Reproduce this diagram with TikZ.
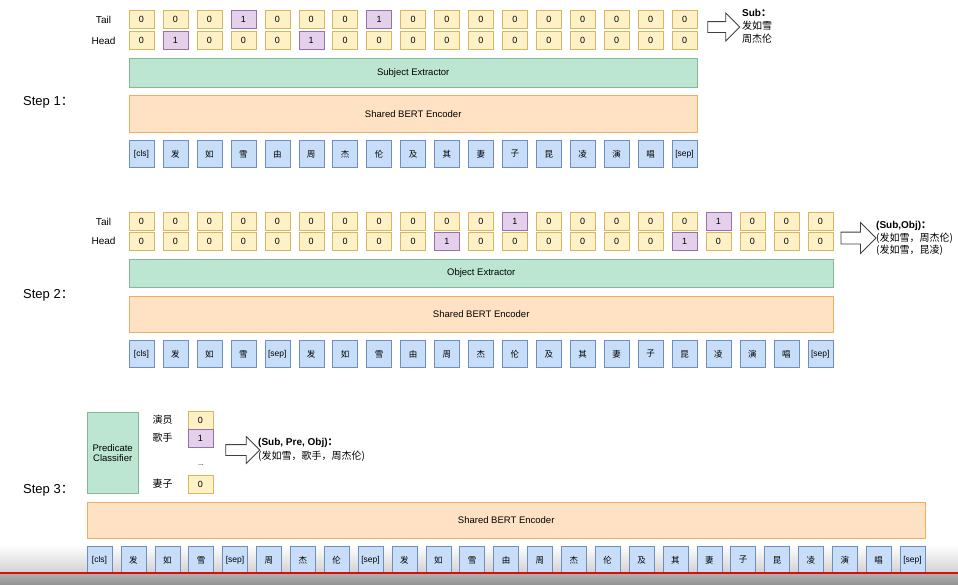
\documentclass[tikz,border=0pt]{standalone}
\usepackage{fontspec}
\setmainfont{Liberation Sans}
\newfontfamily\cjk{Noto Sans CJK SC}
\usetikzlibrary{shapes.arrows}
\definecolor{yf}{RGB}{255,241,198}
\definecolor{yd}{RGB}{214,182,96}
\definecolor{pf}{RGB}{228,208,234}
\definecolor{pd}{RGB}{150,115,166}
\definecolor{gf}{RGB}{188,230,210}
\definecolor{gd}{RGB}{130,185,155}
\definecolor{of}{RGB}{255,226,196}
\definecolor{od}{RGB}{240,172,96}
\definecolor{bf}{RGB}{200,222,248}
\definecolor{bd}{RGB}{110,142,190}
\definecolor{vred}{RGB}{225,10,10}
\newcommand{\tokcls}{\normalfont[cls]}
\newcommand{\toksep}{\normalfont[sep]}
\begin{document}
\begin{tikzpicture}[x=1pt,y=-1pt,
  cell/.style={draw=yd, fill=yf, minimum width=25pt, minimum height=18pt, inner sep=0pt, font=\fontsize{9}{10}\selectfont},
  v0/.style={},
  v1/.style={draw=pd, fill=pf},
  tok/.style={draw=bd, fill=bf, minimum width=25pt, minimum height=27pt, inner sep=0pt, font=\cjk\fontsize{8.5}{9}\selectfont},
  gbar/.style={draw=gd, fill=gf, anchor=north west, inner sep=0pt, font=\fontsize{9.5}{11}\selectfont},
  obar/.style={draw=od, fill=of, anchor=north west, inner sep=0pt, font=\fontsize{9.5}{11}\selectfont},
  rowlab/.style={font=\fontsize{10}{11}\selectfont, inner sep=0pt},
  steplab/.style={font=\fontsize{13}{15}\selectfont, anchor=west, inner sep=0pt},
  harrow/.style={single arrow, draw=black!75, fill=white, line width=0.8pt, inner sep=0pt, single arrow head extend=8.5pt},
  outtxt/.style={anchor=west, align=left, inner sep=0pt}
]
\useasboundingbox (0,0) rectangle (958,584);
\fill[white] (0,0) rectangle (958,584);
% video bar at the bottom
\shade[top color=white, bottom color=black!18] (0,545) rectangle (958,573);
\shade[top color=black!30, bottom color=black!42] (0,573) rectangle (958,584);

% ---------- Step 1 ----------
\node[steplab] (st1) at (23,102) {Step 1{\cjk ：}};
\node[rowlab] (l1t) at (103.5,19.5) {Tail};
\node[rowlab] (l1h) at (103.5,40.5) {Head};
\foreach \v [count=\i from 0] in {0,0,0,1,0,0,0,1,0,0,0,0,0,0,0,0,0}
  \node[cell,v\v] (s1t\i) at (141.5+33.94*\i,19.5) {\v};
\foreach \v [count=\i from 0] in {0,1,0,0,0,1,0,0,0,0,0,0,0,0,0,0,0}
  \node[cell,v\v] (s1h\i) at (141.5+33.94*\i,40.5) {\v};
\node[gbar, minimum width=568pt, minimum height=29pt] (se) at (129,58) {Subject Extractor};
\node[obar, minimum width=568pt, minimum height=37pt] (bert1) at (129,95) {Shared BERT Encoder};
\foreach \t [count=\i from 0] in {\tokcls,发,如,雪,由,周,杰,伦,及,其,妻,子,昆,凌,演,唱,\toksep}
  \node[tok] (s1k\i) at (141.5+33.94*\i,154) {\t};
\node[harrow, minimum height=32pt, single arrow head extend=8.5pt] (ar1) at (721,27) {\rule{0pt}{10pt}};
\node[outtxt, font=\fontsize{10}{13}\selectfont] (out1) at (742,26.5) {\textbf{Sub}{\cjk\bfseries ：}\\{\cjk 发如雪}\\{\cjk 周杰伦}};

% ---------- Step 2 ----------
\node[steplab] (st2) at (23,295) {Step 2{\cjk ：}};
\node[rowlab] (l2t) at (103.5,221.5) {Tail};
\node[rowlab] (l2h) at (103.5,241) {Head};
\foreach \v [count=\i from 0] in {0,0,0,0,0,0,0,0,0,0,0,1,0,0,0,0,0,1,0,0,0}
  \node[cell,v\v] (s2t\i) at (141.5+33.94*\i,221.5) {\v};
\foreach \v [count=\i from 0] in {0,0,0,0,0,0,0,0,0,1,0,0,0,0,0,0,1,0,0,0,0}
  \node[cell,v\v] (s2h\i) at (141.5+33.94*\i,241) {\v};
\node[gbar, minimum width=704pt, minimum height=28pt] (oe) at (129,259) {Object Extractor};
\node[obar, minimum width=704pt, minimum height=36pt] (bert2) at (129,296) {Shared BERT Encoder};
\foreach \t [count=\i from 0] in {\tokcls,发,如,雪,\toksep,发,如,雪,由,周,杰,伦,及,其,妻,子,昆,凌,演,唱,\toksep}
  \node[tok] (s2k\i) at (141.5+33.94*\i,354) {\t};
\node[harrow, minimum height=35pt, single arrow head extend=9.5pt] (ar2) at (855.5,238) {\rule{0pt}{11pt}};
\node[outtxt, font=\fontsize{10}{12.5}\selectfont] (out2) at (876,238.5) {\textbf{(Sub,Obj)}{\cjk\bfseries ：}\\{\cjk (发如雪，周杰伦)}\\{\cjk (发如雪，昆凌)}};

% ---------- Step 3 ----------
\node[steplab] (st3) at (23,490) {Step 3{\cjk ：}};
\node[gbar, minimum width=51pt, minimum height=81pt, align=center] (pc) at (87,412) {Predicate\\[-1pt]Classifier};
\node[rowlab, font=\cjk\fontsize{10}{11}\selectfont] (q1) at (162.5,420) {演员};
\node[rowlab, font=\cjk\fontsize{10}{11}\selectfont] (q2) at (162.5,438) {歌手};
\node[rowlab, font=\cjk\fontsize{10}{11}\selectfont] (q3) at (162.5,484) {妻子};
\node[cell,v0] (p1) at (200.5,420.5) {0};
\node[cell,v1] (p2) at (200.5,438.5) {1};
\node[rowlab, font=\fontsize{7}{8}\selectfont] (pd) at (201,465) {...};
\node[cell,v0] (p3) at (200.5,484) {0};
\node[harrow, minimum height=34pt, single arrow head extend=8pt] (ar3) at (240,450) {\rule{0pt}{10pt}};
\node[outtxt, font=\fontsize{10}{14}\selectfont] (out3) at (258,450) {\textbf{(Sub, Pre, Obj)}{\cjk\bfseries ：}\\{\cjk (发如雪，歌手，周杰伦)}};
\node[obar, minimum width=838pt, minimum height=36pt] (bert3) at (87,502) {Shared BERT Encoder};
\foreach \t [count=\i from 0] in {\tokcls,发,如,雪,\toksep,周,杰,伦,\toksep,发,如,雪,由,周,杰,伦,及,其,妻,子,昆,凌,演,唱,\toksep}
  \node[tok] (s3k\i) at (99.5+33.875*\i,560) {\t};

% red progress line of the video frame
\draw[vred, line width=2.5pt] (0,573) -- (958,573);
\end{tikzpicture}
\end{document}
